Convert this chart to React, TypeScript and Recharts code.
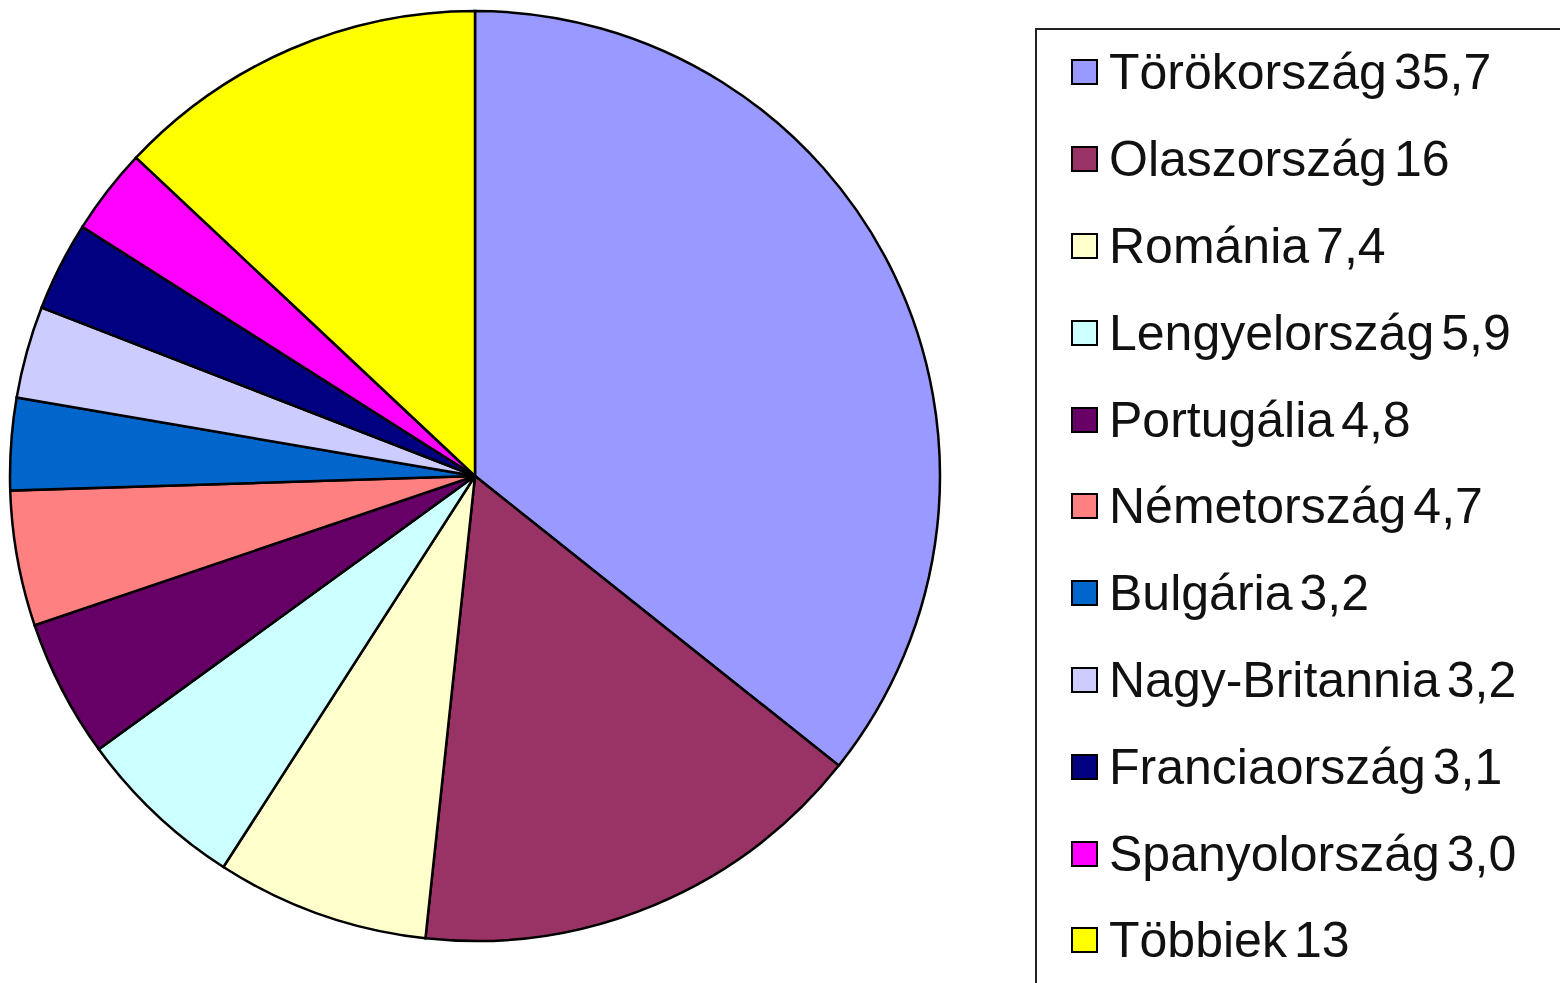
import { PieChart, Pie, Cell, Legend } from "recharts";

const countries = [
  "Törökország",
  "Olaszország",
  "Románia",
  "Lengyelország",
  "Portugália",
  "Németország",
  "Bulgária",
  "Nagy-Britannia",
  "Franciaország",
  "Spanyolország",
  "Többiek",
];
const shares = [35.7, 16, 7.4, 5.9, 4.8, 4.7, 3.2, 3.2, 3.1, 3.0, 13];
const shareLabels = ["35,7", "16", "7,4", "5,9", "4,8", "4,7", "3,2", "3,2", "3,1", "3,0", "13"];
const colors = [
  "#9999FF",
  "#993366",
  "#FFFFCC",
  "#CCFFFF",
  "#660066",
  "#FF8080",
  "#0066CC",
  "#CCCCFF",
  "#000080",
  "#FF00FF",
  "#FFFF00",
];

const data = countries.map((name, i) => ({ name, value: shares[i] }));

const font = '"Liberation Sans", Arial, sans-serif';

// legend keeps the data order (recharts sorts the payload by name otherwise)
function LegendBox() {
  return (
    <div
      style={{
        boxSizing: "border-box",
        width: "100%",
        height: "100%",
        border: "2px solid #222",
        background: "#fff",
      }}
    >
      {countries.map((name, i) => (
        <div
          key={name}
          style={{
            display: "flex",
            alignItems: "center",
            height: 86.8,
            marginTop: i === 0 ? -1 : 0,
            paddingLeft: 34,
          }}
        >
          <span
            style={{
              display: "inline-block",
              boxSizing: "border-box",
              width: 27,
              height: 26,
              background: colors[i],
              border: "2.5px solid #000",
              marginRight: 11,
            }}
          />
          <span
            style={{
              fontFamily: font,
              fontSize: 50,
              color: "#111",
              whiteSpace: "nowrap",
              letterSpacing: 0,
            }}
          >
            {name}
            <span style={{ marginLeft: 7 }}>{shareLabels[i]}</span>
          </span>
        </div>
      ))}
    </div>
  );
}

export default function App() {
  return (
    <div style={{ position: "fixed", left: 0, top: 0, width: 1560, height: 983, background: "#fff" }}>
      <PieChart width={1560} height={983} margin={{ top: 0, right: 0, bottom: 0, left: 0 }}>
        <Pie
          data={data}
          dataKey="value"
          nameKey="name"
          cx={475}
          cy={476}
          outerRadius={465}
          startAngle={90}
          endAngle={-270}
          stroke="#000"
          strokeWidth={2.5}
          isAnimationActive={false}
        >
          {data.map((d, i) => (
            <Cell key={d.name} fill={colors[i]} />
          ))}
        </Pie>
        <Legend
          layout="vertical"
          align="right"
          verticalAlign="top"
          content={<LegendBox />}
          wrapperStyle={{ left: 1035, top: 28, right: "auto", width: 545, height: 980 }}
        />
      </PieChart>
    </div>
  );
}
